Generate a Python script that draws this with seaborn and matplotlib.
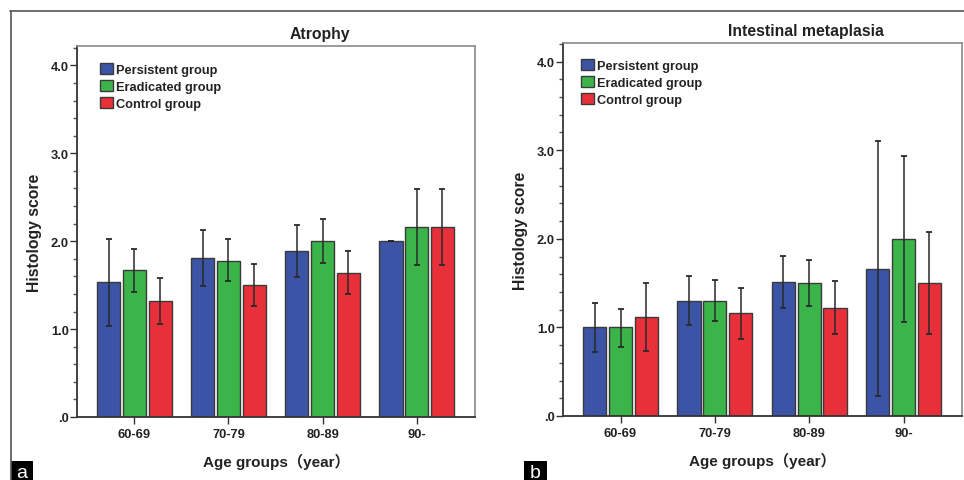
import numpy as np
import pandas as pd
import matplotlib
matplotlib.use("Agg")
import matplotlib.pyplot as plt
from matplotlib.ticker import MultipleLocator, FuncFormatter
from matplotlib.patches import Rectangle
from matplotlib.lines import Line2D
from matplotlib.container import BarContainer
import seaborn as sns

# ---------------- data ----------------
age_groups = ["60-69", "70-79", "80-89", "90-"]
groups = ["Persistent group", "Eradicated group", "Control group"]

# Atrophy (panel a)
atrophy_persistent = [1.53, 1.81, 1.89, 2.00]
atrophy_eradicated = [1.67, 1.78, 2.00, 2.16]
atrophy_control = [1.32, 1.50, 1.64, 2.16]
atrophy_persistent_lo = [1.03, 1.49, 1.59, 2.00]
atrophy_persistent_hi = [2.02, 2.13, 2.18, 2.00]
atrophy_eradicated_lo = [1.42, 1.55, 1.75, 1.73]
atrophy_eradicated_hi = [1.91, 2.02, 2.25, 2.59]
atrophy_control_lo = [1.06, 1.26, 1.40, 1.73]
atrophy_control_hi = [1.58, 1.74, 1.89, 2.59]

# Intestinal metaplasia (panel b)
im_persistent = [1.00, 1.30, 1.51, 1.66]
im_eradicated = [1.00, 1.30, 1.50, 2.00]
im_control = [1.12, 1.16, 1.22, 1.50]
im_persistent_lo = [0.72, 1.03, 1.22, 0.23]
im_persistent_hi = [1.28, 1.58, 1.81, 3.10]
im_eradicated_lo = [0.78, 1.07, 1.24, 1.06]
im_eradicated_hi = [1.21, 1.54, 1.76, 2.94]
im_control_lo = [0.73, 0.87, 0.93, 0.92]
im_control_hi = [1.50, 1.44, 1.52, 2.08]

titles = ["Atrophy", "Intestinal metaplasia"]
panel_letters = ["a", "b"]
xlabel = "Age groups（year）"
ylabel = "Histology score"
colors = ["#3b54a5", "#3bb54a", "#e8303a"]

panels = [
    dict(means=[atrophy_persistent, atrophy_eradicated, atrophy_control],
         lo=[atrophy_persistent_lo, atrophy_eradicated_lo, atrophy_control_lo],
         hi=[atrophy_persistent_hi, atrophy_eradicated_hi, atrophy_control_hi]),
    dict(means=[im_persistent, im_eradicated, im_control],
         lo=[im_persistent_lo, im_eradicated_lo, im_control_lo],
         hi=[im_persistent_hi, im_eradicated_hi, im_control_hi]),
]

# ---------------- style ----------------
sns.set_theme(style="white")
plt.rcParams["font.family"] = ["Liberation Sans", "Noto Sans CJK SC", "DejaVu Sans"]
plt.rcParams["font.weight"] = "bold"

W, H = 964, 481
fig = plt.figure(figsize=(W / 100, H / 100), dpi=100)

def fx(px):
    return px / W

def fy(py):
    return 1 - py / H

# axes rectangles in pixel coordinates (left, top, right, bottom)
ax_px = [(77, 47, 475, 418), (563, 44, 962, 417)]
ytops = [4.22, 4.21]
legend_anchor = [(0.058, 0.955), (0.045, 0.958)]
letter_box_px = [(11, 462, 33, 481), (524, 462, 547, 481)]

for k, p in enumerate(panels):
    l, t, r, b = ax_px[k]
    ax = fig.add_axes([fx(l), fy(b), fx(r) - fx(l), fy(t) - fy(b)])

    rows = []
    for gi, g in enumerate(groups):
        for ai, a in enumerate(age_groups):
            rows.append(dict(age=a, group=g, score=p["means"][gi][ai]))
    df = pd.DataFrame(rows)

    sns.barplot(data=df, x="age", y="score", hue="group", order=age_groups,
                hue_order=groups, palette=colors, errorbar=None,
                width=0.82, gap=0.1, edgecolor="#3a3a3a", linewidth=1.0,
                saturation=1, ax=ax, zorder=2)

    bar_containers = [c for c in list(ax.containers) if isinstance(c, BarContainer)]
    for gi, cont in enumerate(bar_containers):
        xs = [bar.get_x() + bar.get_width() / 2 for bar in cont.patches]
        m = np.array(p["means"][gi])
        lo = np.array(p["lo"][gi])
        hi = np.array(p["hi"][gi])
        ax.errorbar(xs, m, yerr=[m - lo, hi - m], fmt="none",
                    ecolor="#2a2a2a", elinewidth=1.1, capsize=2.5,
                    capthick=1.3, zorder=3)

    ax.set_xlim(-0.61, 3.62)
    ax.set_ylim(0, ytops[k])
    ax.yaxis.set_major_locator(MultipleLocator(1.0))
    ax.yaxis.set_minor_locator(MultipleLocator(0.2))
    ax.yaxis.set_major_formatter(
        FuncFormatter(lambda v, pos: ".0" if abs(v) < 1e-9 else f"{v:.1f}"))
    ax.tick_params(axis="y", which="major", direction="out", length=5,
                   width=1.0, color="#333333", labelsize=9.3, pad=1,
                   left=True)
    ax.tick_params(axis="y", which="minor", direction="out", length=3,
                   width=1.0, color="#555555", left=True)
    ax.tick_params(axis="x", which="major", direction="out", length=5,
                   width=1.0, color="#333333", labelsize=9.3, pad=3,
                   bottom=True)
    for lab in ax.get_xticklabels() + ax.get_yticklabels():
        lab.set_fontweight("bold")
        lab.set_color("#222222")

    for side in ["left", "bottom"]:
        ax.spines[side].set_color("#333333")
        ax.spines[side].set_linewidth(1.3)
    for side in ["top", "right"]:
        ax.spines[side].set_color("#8a8a8a")
        ax.spines[side].set_linewidth(1.2)
        ax.spines[side].set_visible(True)

    ax.set_xlabel(xlabel, fontsize=11, fontweight="bold", color="#222222",
                  labelpad=9)
    ax.set_ylabel(ylabel, fontsize=11.3, fontweight="bold", color="#222222",
                  labelpad=6)
    ax.set_title(titles[k], fontsize=11.3, fontweight="bold", color="#222222",
                 x=0.61, pad=6)

    handles = [Rectangle((0, 0), 1, 1, facecolor=c, edgecolor="#3a3a3a",
                         linewidth=1.0) for c in colors]
    leg = ax.legend(handles, groups, loc="upper left",
                    bbox_to_anchor=legend_anchor[k], borderaxespad=0,
                    borderpad=0, frameon=False, handlelength=1.0,
                    handleheight=1.0, handletextpad=0.25,
                    labelspacing=0.3, prop=dict(size=9.2, weight="bold"))
    for txt in leg.get_texts():
        txt.set_color("#222222")

    # panel letter in a black box
    bl, bt, br, bb = letter_box_px[k]
    fig.patches.append(Rectangle((fx(bl), fy(bb)), fx(br) - fx(bl),
                                 fy(bt) - fy(bb), transform=fig.transFigure,
                                 facecolor="black", edgecolor="none"))
    fig.text((fx(bl) + fx(br)) / 2, (fy(bt) + fy(bb)) / 2 - 0.004,
             panel_letters[k], color="white", fontsize=14,
             fontweight="normal", ha="center", va="center")

# outer frame lines (top and left)
fig.add_artist(Line2D([fx(10), 1.0], [fy(11.5), fy(11.5)],
                      transform=fig.transFigure, color="#555555", lw=1.2))
fig.add_artist(Line2D([fx(10.5), fx(10.5)], [fy(11.5), 0],
                      transform=fig.transFigure, color="#555555", lw=1.2))

fig.savefig("out.png", dpi=100, facecolor="white")
